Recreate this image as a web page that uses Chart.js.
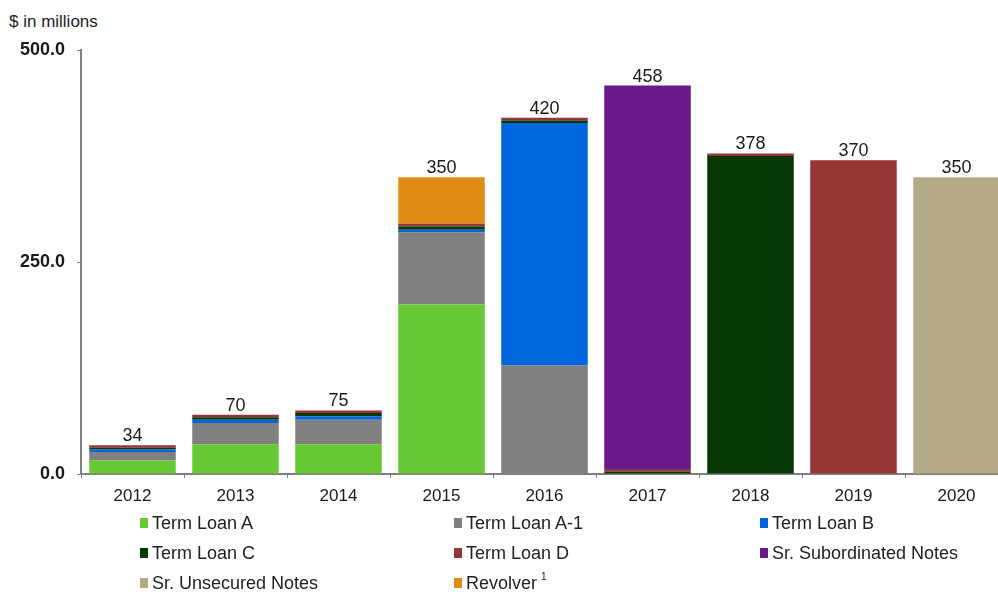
<!DOCTYPE html>
<html>
<head>
<meta charset="utf-8">
<title>Debt maturities</title>
<script src="https://cdn.jsdelivr.net/npm/chart.js@4/dist/chart.umd.min.js"></script>
<style>
    html, body { margin: 0; padding: 0; background: #fff; overflow: hidden; }
    body { width: 998px; height: 592px; position: relative; font-family: "Liberation Sans", Arial, sans-serif; }
    #unit { position: absolute; left: 9px; top: 12px; font-size: 17px; color: #222; }
    #wrap { position: absolute; left: 0; top: 0; width: 1008px; height: 512px; }
    #legend {
        position: absolute; left: 140px; top: 508px;
        display: grid; grid-template-columns: 314px 306px auto; grid-auto-rows: 30px;
        font-size: 18px; color: #222;
    }
    #legend div { display: flex; align-items: center; white-space: nowrap; }
    #legend span.box { display: inline-block; width: 8px; height: 10px; margin-right: 4px; }
    #legend sup { font-size: 10px; margin-left: 4px; position: relative; top: -7px; }
</style>
</head>
<body>
<div id="unit">$ in millions</div>
<div id="wrap"><canvas id="maturityChart" width="1008" height="512"></canvas></div>
<div id="legend"></div>
<script>
/* Debt maturity schedule, stacked by facility. */
const years = ['2012', '2013', '2014', '2015', '2016', '2017', '2018', '2019', '2020'];

const termLoanA   = [16, 35, 35, 200, 0, 0, 0, 0, 0];
const termLoanA1  = [10, 25, 29, 85, 128, 0, 0, 0, 0];
const termLoanB   = [3, 4, 4, 3, 286, 0, 0, 0, 0];
const termLoanC   = [2, 3, 4, 4, 3, 3, 375, 0, 0];
const termLoanD   = [3, 3, 3, 3, 3, 3, 3, 370, 0];
const subNotes    = [0, 0, 0, 0, 0, 452, 0, 0, 0];
const unsecNotes  = [0, 0, 0, 0, 0, 0, 0, 0, 350];
const revolver    = [0, 0, 0, 55, 0, 0, 0, 0, 0];

const yTicks = [0, 250, 500];

const series = [
    { label: 'Term Loan A',             data: termLoanA,  color: '#66c933' },
    { label: 'Term Loan A-1',           data: termLoanA1, color: '#808080' },
    { label: 'Term Loan B',             data: termLoanB,  color: '#0066dd' },
    { label: 'Term Loan C',             data: termLoanC,  color: '#053805' },
    { label: 'Term Loan D',             data: termLoanD,  color: '#953535' },
    { label: 'Sr. Subordinated Notes',  data: subNotes,   color: '#6a198b' },
    { label: 'Sr. Unsecured Notes',     data: unsecNotes, color: '#b4a887' },
    { label: 'Revolver',                data: revolver,   color: '#e08c14', note: '1' },
];

const FONT = '"Liberation Sans", Arial, sans-serif';

// stack totals written above each bar
const totalsPlugin = {
    id: 'totals',
    afterDatasetsDraw(chart) {
        const { ctx, scales: { y } } = chart;
        const meta = chart.getDatasetMeta(0);
        ctx.save();
        ctx.font = '18px ' + FONT;
        ctx.fillStyle = '#1a1a1a';
        ctx.textAlign = 'center';
        ctx.textBaseline = 'bottom';
        years.forEach((yr, i) => {
            const total = chart.data.datasets.reduce((s, d) => s + d.data[i], 0);
            ctx.fillText(String(total), meta.data[i].x, y.getPixelForValue(total));
        });
        ctx.restore();
    },
};

new Chart(document.getElementById('maturityChart'), {
    type: 'bar',
    data: {
        labels: years,
        datasets: series.map((s) => ({
            label: s.label,
            data: s.data,
            backgroundColor: s.color,
            borderWidth: 0,
            categoryPercentage: 1,
            barPercentage: 0.84,
        })),
    },
    options: {
        responsive: false,
        animation: false,
        layout: { padding: { top: 50, left: 0, right: 0, bottom: 0 } },
        plugins: { legend: { display: false }, tooltip: { enabled: false } },
        scales: {
            x: {
                stacked: true,
                afterFit: (s) => { s.height = 38; },
                border: { color: '#808080', width: 2 },
                grid: { drawOnChartArea: false, tickLength: 4, color: '#808080' },
                ticks: { color: '#1a1a1a', padding: 8, font: { size: 17, family: FONT } },
            },
            y: {
                stacked: true,
                min: 0,
                max: 500,
                afterFit: (s) => { s.width = 81; },
                afterBuildTicks: (s) => { s.ticks = yTicks.map((v) => ({ value: v })); },
                border: { color: '#808080', width: 2 },
                grid: { drawOnChartArea: false, tickLength: 4, color: '#808080' },
                ticks: {
                    color: '#1a1a1a', padding: 12,
                    font: { size: 18, weight: 'bold', family: FONT },
                    callback: (v) => Number(v).toFixed(1),
                },
            },
        },
    },
    plugins: [totalsPlugin],
});

// three-column legend under the axis
const legend = document.getElementById('legend');
series.forEach((s) => {
    const item = document.createElement('div');
    const box = document.createElement('span');
    box.className = 'box';
    box.style.background = s.color;
    item.appendChild(box);
    item.appendChild(document.createTextNode(s.label));
    if (s.note) {
        const sup = document.createElement('sup');
        sup.textContent = s.note;
        item.appendChild(sup);
    }
    legend.appendChild(item);
});
</script>
</body>
</html>
